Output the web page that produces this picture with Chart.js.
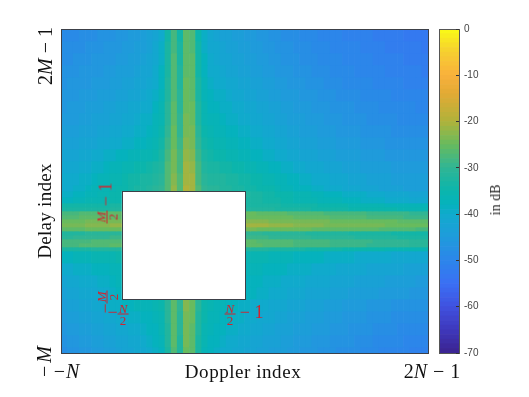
<!DOCTYPE html>
<html>
<head>
<meta charset="utf-8">
<title>Delay-Doppler map</title>
<script src="https://cdn.jsdelivr.net/npm/chart.js@4"></script>
<style>
  html, body { margin: 0; padding: 0; background: #fff; }
  #stage { position: relative; width: 529px; height: 397px; overflow: hidden; }
  canvas { position: absolute; left: 0; top: 0; }
  .t { position: absolute; white-space: nowrap; transform: translate(-50%, -50%); font-family: "Liberation Serif", serif; color: #111; font-size: 20px; line-height: 1; }
  .up { transform: translate(-50%, -50%) rotate(-90deg); }
  .red { color: #d2232f; font-size: 18px; }
  .frac { display: inline-flex; flex-direction: column; align-items: center; vertical-align: middle; font-size: 13px; line-height: 11px; }
  .frac span:first-child { border-bottom: 1px solid currentColor; padding: 0 1px; }
</style>
</head>
<body>
<div id="stage">
  <canvas id="mapChart" width="529" height="397"></canvas>
  <canvas id="barChart" width="529" height="397"></canvas>

  <div class="t" style="left:243px;top:371px;font-size:19px;letter-spacing:0.55px">Doppler index</div>
  <div class="t up" style="left:44px;top:211px;font-size:19px;letter-spacing:0.3px">Delay index</div>
  <div class="t up" style="left:45px;top:56px">2<i>M</i> − 1</div>
  <div class="t up" style="left:44px;top:360px;letter-spacing:3px">−<i>M</i></div>
  <div class="t" style="left:67px;top:371px;letter-spacing:1px">−<i>N</i></div>
  <div class="t" style="left:432px;top:371px;word-spacing:1px">2<i>N</i> − 1</div>
  <div class="t up" style="left:496px;top:200px;font-size:14px;color:#222">in dB</div>

  <div class="t red" style="left:244px;top:314px"><span class="frac"><span><i>N</i></span><span>2</span></span> − 1</div>
  <div class="t red" style="left:118px;top:314px">−<span class="frac"><span><i>N</i></span><span>2</span></span></div>
  <div class="t up red" style="left:107px;top:302px">−<span class="frac"><span><i>M</i></span><span>2</span></span></div>
  <div class="t up red" style="left:107px;top:203px"><span class="frac"><span><i>M</i></span><span>2</span></span> − 1</div>
</div>

<script>
'use strict';

// dB below peak. rows go top to bottom, 60 doppler columns
const hole = Array(20).fill(null);

const rowHeights = [12,12,12,12,12,12,12,12,12,12,12,12,12,6,6,6,4,4,4,4,4,4,4,4,4,4,4,4,12,12,12,12,12,12,12,12,6];

const attenuationRows = [
  [49,49,49,48,48,48,47,47,47,46,46,45,45,44,43,42,40,34,28,34,26,27,35,39,41,42,43,43,44,44,45,45,46,46,47,47,48,48,48,49,49,49,50,50,50,50,51,51,51,51,51,52,52,52,52,52,53,53,53,53],
  [48,48,48,48,47,47,47,46,46,46,45,45,44,44,43,41,39,33,28,33,26,27,34,39,41,41,42,43,43,44,44,45,45,46,46,47,47,47,48,48,48,49,49,49,50,50,50,50,50,51,51,51,51,52,52,52,52,52,52,53],
  [48,48,47,47,47,46,46,46,46,45,45,44,44,43,42,41,39,33,27,33,26,26,34,38,40,41,42,42,43,43,44,44,45,45,46,46,47,47,47,48,48,48,49,49,49,49,50,50,50,50,50,51,51,51,51,51,52,52,52,52],
  [47,47,47,46,46,46,46,45,45,44,44,44,43,42,42,40,38,33,27,32,26,26,34,38,40,40,41,42,42,43,43,44,44,45,45,46,46,46,47,47,47,48,48,48,49,49,49,49,50,50,50,50,50,51,51,51,51,51,51,52],
  [47,46,46,46,46,45,45,45,44,44,43,43,42,42,41,40,38,32,27,32,25,26,33,37,39,40,40,41,41,42,42,43,43,44,44,45,45,46,46,46,47,47,47,48,48,48,49,49,49,49,49,50,50,50,50,50,51,51,51,51],
  [46,46,46,45,45,45,44,44,44,43,43,42,42,41,40,39,37,32,27,31,25,26,33,37,38,39,39,40,41,41,42,42,43,43,44,44,45,45,45,46,46,46,47,47,47,48,48,48,48,49,49,49,49,49,50,50,50,50,50,50],
  [46,45,45,45,44,44,44,43,43,42,42,41,41,40,40,38,36,31,26,31,25,25,32,36,38,38,39,39,40,40,41,41,42,42,43,43,44,44,45,45,45,46,46,46,47,47,47,47,48,48,48,48,49,49,49,49,49,49,50,50],
  [45,45,45,44,44,43,43,43,42,42,41,41,40,39,39,37,36,31,26,30,24,25,32,36,37,37,38,39,39,40,40,41,41,42,42,43,43,44,44,44,45,45,45,46,46,46,47,47,47,47,48,48,48,48,48,49,49,49,49,49],
  [44,44,44,43,43,43,42,42,41,41,40,40,39,39,38,37,35,30,25,30,24,24,31,35,36,37,37,38,38,39,39,40,40,41,41,42,42,43,43,44,44,44,45,45,45,46,46,46,46,47,47,47,47,47,48,48,48,48,48,48],
  [43,43,43,42,42,42,41,41,40,40,39,39,38,38,37,36,34,29,25,29,23,24,30,34,35,36,36,37,37,38,38,39,39,40,40,41,41,42,42,43,43,43,44,44,44,45,45,45,45,46,46,46,46,47,47,47,47,47,47,47],
  [42,42,42,41,41,40,40,39,39,38,38,37,37,36,36,35,33,28,24,28,22,23,29,33,34,35,35,36,36,37,37,38,38,39,39,40,40,41,41,42,42,42,43,43,43,44,44,44,44,45,45,45,45,46,46,46,46,46,46,46],
  [41,41,41,40,40,39,39,38,37,37,36,36,35,35,34,33,32,27,24,28,21,22,28,32,33,33,34,34,35,35,36,36,37,37,38,38,39,39,40,40,41,41,41,42,42,42,43,43,43,44,44,44,44,44,45,45,45,45,45,45],
  [40,40,40,39,39,38,37,37,36,36,35,34,34,33,33,32,31,27,23,27,21,21,28,31,32,32,32,33,33,34,34,35,35,36,36,37,37,38,38,39,39,40,40,40,41,41,41,42,42,42,43,43,43,43,44,44,44,44,44,44],
  [40,40,39,39,38,37,37,36,36,35,35,34,33,33,32,31,30,27,22,27,20,21,27,30,31,31,32,32,33,33,34,34,35,35,35,36,37,37,38,38,38,39,39,40,40,40,41,41,41,42,42,42,43,43,43,43,44,44,44,44],
  [39,39,38,38,37,37,36,36,35,35,...hole,32,33,33,34,34,35,35,35,36,36,36,37,37,38,38,38,39,39,39,39,40,40,40,41,41,41,41,42,42,42],
  [38,38,37,37,36,36,36,35,35,35,...hole,33,33,33,34,34,34,35,35,36,36,36,36,37,37,37,37,38,38,38,39,39,39,39,40,40,40,40,41,41,41],
  [34,34,34,34,34,34,34,34,33,33,...hole,33,33,33,33,33,33,34,34,34,34,34,34,35,35,35,35,35,36,36,36,36,36,36,37,37,37,37,37,37,37],
  [33,33,33,33,33,33,33,33,32,32,...hole,32,32,32,32,32,33,33,33,33,33,33,34,34,34,34,34,34,35,35,35,35,35,35,35,35,36,36,36,36,36],
  [28,28,28,27,27,27,27,26,26,26,...hole,25,25,26,26,26,26,26,27,27,27,27,27,27,28,28,28,28,28,28,28,29,29,29,29,29,29,29,30,30,30],
  [27,27,27,26,26,26,26,26,26,26,...hole,25,25,25,25,25,25,25,25,26,26,26,26,26,26,27,27,27,27,27,27,28,28,28,28,28,28,29,29,29,29],
  [25,25,25,25,24,24,24,24,24,24,...hole,23,23,23,23,24,24,24,24,24,24,24,24,24,24,25,25,25,25,25,25,25,25,25,25,25,26,26,26,26,26],
  [24,24,24,24,23,23,23,23,22,22,...hole,21,21,21,21,22,22,22,22,23,23,23,23,23,24,24,24,24,24,24,24,24,24,24,25,25,25,25,25,25,25],
  [26,26,26,26,25,25,25,25,25,25,...hole,24,24,25,25,25,25,25,25,25,25,25,26,26,26,26,26,26,26,26,26,26,26,27,27,27,27,27,27,28,28],
  [32,32,32,32,31,31,31,31,31,31,...hole,30,30,30,31,31,31,31,31,31,31,32,32,32,32,32,32,32,33,33,33,33,33,33,33,34,34,34,34,34,34],
  [31,31,30,30,30,30,30,30,29,29,...hole,29,29,29,29,30,30,30,30,30,30,30,31,31,31,31,31,31,31,32,32,32,32,32,32,32,33,33,33,33,33],
  [28,28,28,28,28,27,27,27,27,27,...hole,26,26,27,27,27,27,27,27,28,28,28,28,28,28,29,29,29,29,29,29,29,30,30,30,30,30,30,31,31,31],
  [28,28,28,27,27,27,27,27,26,26,...hole,26,26,26,27,27,27,27,27,28,28,28,28,28,28,29,29,29,29,29,29,30,30,30,30,30,30,30,31,31,31],
  [33,33,33,33,33,32,32,32,32,32,...hole,32,32,32,32,33,33,33,33,33,33,34,34,34,34,34,34,35,35,35,35,35,35,35,36,36,36,36,36,36,36],
  [38,38,37,37,37,36,36,36,36,35,...hole,36,36,36,36,37,37,37,37,38,38,38,38,38,39,39,39,39,39,40,40,40,40,40,40,41,41,41,41,41,41],
  [40,40,39,39,39,38,38,38,37,37,...hole,37,37,37,38,38,38,38,39,39,39,39,40,40,40,40,41,41,41,41,41,42,42,42,42,42,42,43,43,43,43],
  [42,41,41,40,40,40,39,39,38,37,...hole,38,38,38,39,39,39,40,40,40,40,41,41,41,41,42,42,42,42,43,43,43,43,43,44,44,44,44,44,45,45],
  [43,42,42,41,41,41,40,40,39,38,...hole,38,38,39,39,40,40,40,41,41,41,42,42,42,42,43,43,43,44,44,44,44,44,45,45,45,45,45,46,46,46],
  [44,43,43,42,42,41,41,40,39,39,38,38,37,37,37,36,35,31,26,30,23,25,31,35,36,37,37,38,38,39,39,40,40,40,41,41,41,42,42,42,43,43,43,44,44,44,45,45,45,45,46,46,46,46,47,47,47,47,47,47],
  [45,44,44,43,43,42,42,41,41,40,40,39,39,38,38,37,36,31,26,31,24,25,32,35,37,37,38,38,39,39,40,40,41,41,41,42,42,43,43,43,44,44,44,45,45,45,46,46,46,46,47,47,47,47,48,48,48,48,48,48],
  [46,45,45,44,44,43,43,42,42,41,41,40,40,39,38,38,36,32,26,31,24,26,32,36,37,38,38,39,39,40,40,41,41,42,42,43,43,43,44,44,44,45,45,45,46,46,46,47,47,47,47,48,48,48,48,49,49,49,49,49],
  [47,46,46,45,45,44,44,43,43,42,42,41,41,40,39,38,37,32,26,32,24,26,33,36,38,38,39,40,40,41,41,42,42,43,43,43,44,44,45,45,45,46,46,46,47,47,47,47,48,48,48,49,49,49,49,49,50,50,50,50],
  [48,47,47,46,46,45,45,44,44,43,42,42,41,41,40,39,38,33,27,32,25,26,33,37,38,39,40,40,41,41,42,42,43,43,44,44,44,45,45,46,46,46,47,47,47,48,48,48,48,49,49,49,50,50,50,50,50,51,51,51]
];

// colour bar
const colorTicks = [0,-10,-20,-30,-40,-50,-60,-70];
const colorStopDb = [0,-5,-10,-14,-20,-25,-30,-35,-38,-40,-45,-50,-55,-60,-65,-70];
const colorStopRgb = [
  [249,251,21],[246,207,48],[249,177,60],[226,170,52],[176,178,58],[104,187,94],[48,181,148],[11,181,172],
  [5,178,189],[16,170,204],[31,155,219],[44,134,234],[58,112,244],[64,82,224],[62,56,188],[59,35,144]
];
const colorbarLevels = [-70,-69,-68,-67,-66,-65,-64,-63,-62,-61,-60,-59,-58,-57,-56,-55,-54,-53,-52,-51,-50,-49,-48,-47,-46,-45,-44,-43,-42,-41,-40,-39,-38,-37,-36,-35,-34,-33,-32,-31,-30,-29,-28,-27,-26,-25,-24,-23,-22,-21,-20,-19,-18,-17,-16,-15,-14,-13,-12,-11,-10,-9,-8,-7,-6,-5,-4,-3,-2,-1];

function dbToColor(db){
  for(let i = 0; i < colorStopDb.length - 1; i++){
    if(db <= colorStopDb[i] && db >= colorStopDb[i + 1]){
      let f = (colorStopDb[i] - db) / (colorStopDb[i] - colorStopDb[i + 1]);
      let a = colorStopRgb[i];
      let b = colorStopRgb[i + 1];
      return `rgb(${a[0] + (b[0] - a[0]) * f},${a[1] + (b[1] - a[1]) * f},${a[2] + (b[2] - a[2]) * f})`;
    }
  }
  return colorStopRgb[colorStopRgb.length - 1];
}

Chart.defaults.animation = false;
Chart.defaults.plugins.legend.display = false;
Chart.defaults.plugins.tooltip.enabled = false;

let totalDelay = rowHeights.reduce((s, h) => s + h, 0);
let columnLabels = attenuationRows[0].map((v, i) => i);

// the white cut-out, in column numbers and delay units from the top
const holeColumns = [9.5, 29.5];
const holeDelays = [162, 270];

let framePlugin = {
  id: 'frame',
  afterDatasetsDraw(chart){
    let ctx = chart.ctx;
    let x = chart.scales.x;
    let y = chart.scales.y;
    let area = chart.chartArea;
    ctx.save();
    ctx.strokeStyle = '#3c4048';
    ctx.lineWidth = 1;
    ctx.strokeRect(area.left + 0.5, area.top + 0.5, area.width, area.height);
    let hx = Math.round(x.getPixelForValue(holeColumns[0])) + 0.5;
    let hx2 = Math.round(x.getPixelForValue(holeColumns[1])) + 0.5;
    let hy = Math.round(y.getPixelForValue(holeDelays[0])) + 0.5;
    let hy2 = Math.round(y.getPixelForValue(holeDelays[1])) + 0.5;
    ctx.fillStyle = '#fff';
    ctx.fillRect(hx, hy, hx2 - hx, hy2 - hy);
    ctx.strokeRect(hx, hy, hx2 - hx, hy2 - hy);
    ctx.restore();
  }
};

new Chart(document.getElementById('mapChart'), {
  type: 'bar',
  data: {
    labels: columnLabels,
    datasets: attenuationRows.map((row, r) => ({
      data: row.map(() => rowHeights[r]),
      backgroundColor: row.map(v => v === null ? '#fff' : dbToColor(-v)),
      borderWidth: 0,
      barPercentage: 1,
      categoryPercentage: 1
    }))
  },
  options: {
    responsive: false,
    layout: { padding: { left: 61, right: 101, top: 29, bottom: 44 } },
    scales: {
      x: { display: false, stacked: true },
      y: { display: false, stacked: true, reverse: true, min: 0, max: totalDelay }
    }
  },
  plugins: [framePlugin]
});

new Chart(document.getElementById('barChart'), {
  type: 'bar',
  data: {
    labels: ['dB'],
    datasets: colorbarLevels.map(level => ({
      data: [[level, level + 1]],
      backgroundColor: dbToColor(level + 0.5),
      borderWidth: 0,
      barPercentage: 1,
      categoryPercentage: 1
    }))
  },
  options: {
    responsive: false,
    layout: { padding: { left: 439, right: 40, top: 29, bottom: 44 } },
    scales: {
      x: { display: false, stacked: true },
      y: {
        position: 'right',
        min: -70,
        max: 0,
        afterFit(scale){ scale.width = 30; },
        afterBuildTicks(scale){ scale.ticks = colorTicks.map(v => ({ value: v })); },
        border: { display: true, color: '#555', z: 1 },
        grid: { drawOnChartArea: false, drawTicks: true, tickLength: -3, color: '#333', z: 1 },
        ticks: { padding: 8, color: '#444', font: { family: 'Liberation Sans', size: 10 }, callback: v => String(v) }
      }
    }
  },
  plugins: [{
    id: 'barFrame',
    afterDatasetsDraw(chart){
      let area = chart.chartArea;
      chart.ctx.save();
      chart.ctx.strokeStyle = '#555';
      chart.ctx.strokeRect(area.left + 0.5, area.top + 0.5, area.width, area.height);
      chart.ctx.restore();
    }
  }]
});
</script>
</body>
</html>
